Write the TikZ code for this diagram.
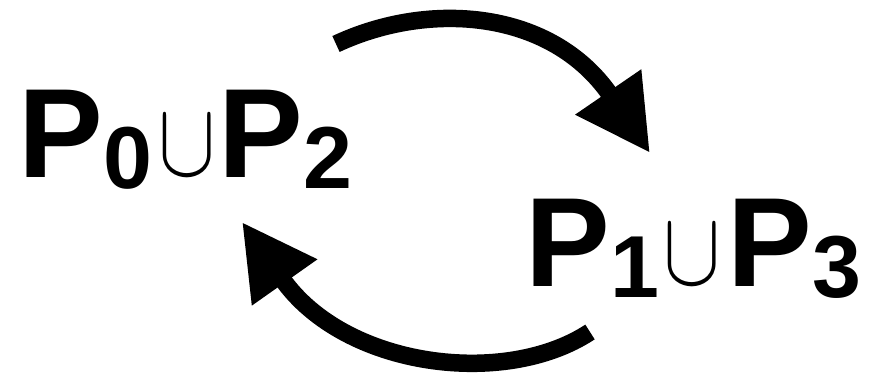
\documentclass[tikz,border=0pt]{standalone}
\DeclareFontFamily{OMS}{cmsy}{\skewchar\font48 }
\DeclareFontShape{OMS}{cmsy}{m}{n}{<->cmsy10}{}
\DeclareFontShape{OMS}{cmsy}{b}{n}{<->cmbsy10}{}
\usepackage{fontspec}
\newfontfamily\labfont{Liberation Sans}
\usetikzlibrary{arrows.meta}
\newcommand{\bigP}{{\fontsize{127}{127}\selectfont P}}
\newcommand{\subdig}[1]{\raisebox{-11pt}{\fontsize{88}{88}\selectfont #1}}
\newcommand{\unionsym}{\raisebox{2.5pt}{\scalebox{1}[1.23]{\fontsize{86}{86}\selectfont\mdseries$\cup$}}}
\begin{document}
\begin{tikzpicture}[x=1pt,y=-1pt,
  lab/.style={inner sep=0pt,anchor=base west,font=\labfont\bfseries},
  flow/.style={line width=17.5pt,-{Triangle[length=74pt,width=75pt]}}]
\useasboundingbox (0,0) rectangle (889,382);
\node[lab] (left) at (18.3,178) {\bigP\subdig{0}\kern6.4pt\unionsym\kern2.7pt\bigP\subdig{2}};
\node[lab] (right) at (525.3,287) {\bigP\subdig{1}\kern4.4pt\unionsym\kern6.7pt\bigP\subdig{3}};
\coordinate (t1) at (336,44);
\coordinate (h1) at (650,153);
\coordinate (t2) at (590,332);
\coordinate (h2) at (242,222);
\draw[flow] (t1) .. controls (430,0) and (552,10) .. (h1);
\draw[flow] (t2) .. controls (505,388) and (345,368) .. (h2);
\end{tikzpicture}
\end{document}
